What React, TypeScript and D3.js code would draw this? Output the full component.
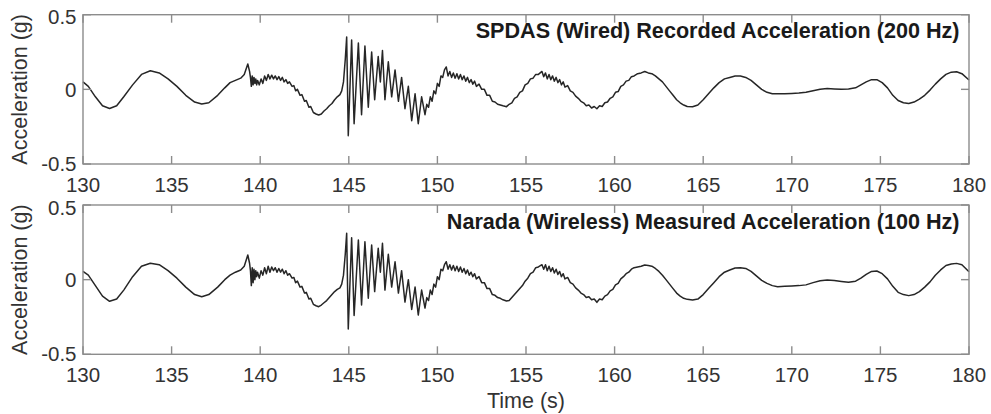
import React from 'react';
import * as d3 from 'd3';

// ---- Data ----
const time = [
  130.0,130.3,130.7,131.1,131.5,131.9,132.3,132.8,133.3,133.8,134.3,134.8,135.3,135.8,136.3,136.7,137.1,137.6,138.0,138.3,138.6,138.9,139.1,139.3,
  139.4,139.45,139.5,139.55,139.6,139.65,139.7,139.75,139.8,
  139.85,139.95,140.05,140.15,140.25,140.35,140.45,140.55,140.65,140.75,140.85,140.95,141.05,141.15,141.25,141.35,141.45,141.55,141.65,141.8,141.9,
  142.0,142.1,142.25,142.35,142.5,142.6,142.75,142.85,143.0,143.15,143.3,143.45,143.6,143.75,143.9,144.05,144.2,144.35,144.5,144.6,144.7,144.8,
  144.88,144.97,145.16,145.3,145.54,145.72,145.91,146.1,146.29,146.46,146.66,146.78,146.9,147.04,147.23,147.42,147.61,147.8,147.98,148.17,148.36,148.55,148.74,148.92,149.11,149.3,
  149.4,149.5,149.6,149.7,149.8,149.9,150.0,150.1,150.2,150.3,150.4,150.5,150.6,150.7,150.8,150.9,151.0,151.1,151.2,151.3,151.4,151.5,151.6,151.7,151.8,151.9,152.0,152.1,152.2,152.35,152.5,152.65,152.8,152.95,153.1,153.25,153.4,153.55,153.7,153.9,
  154.05,154.2,154.35,154.5,154.65,154.8,154.95,155.1,155.25,155.4,155.55,155.7,155.9,
  156.0,156.1,156.2,156.3,156.4,156.5,156.6,156.7,156.8,156.9,157.0,157.1,157.2,157.35,157.5,157.65,157.8,157.95,158.1,158.25,158.4,158.55,158.7,158.85,159.0,
  159.15,159.3,159.45,159.6,159.75,159.9,160.05,160.2,160.35,160.5,160.65,160.8,160.95,161.1,
  161.3,161.5,161.7,161.9,162.1,162.3,162.5,162.7,162.9,163.1,163.3,163.5,163.7,163.9,164.1,
  164.4,164.7,165.0,165.3,165.6,165.9,166.2,166.5,166.8,167.1,167.4,167.7,168.0,168.3,168.6,168.9,169.2,
  169.6,170.0,170.4,170.8,171.2,171.6,172.0,172.4,172.8,173.2,173.6,
  173.9,174.2,174.5,174.8,175.1,175.4,175.7,176.0,176.3,176.6,176.9,177.2,177.5,177.8,178.1,178.4,178.7,179.0,179.3,179.6,
  180.0,
];

const wiredAccel = [
  0.05,0.02,-0.05,-0.11,-0.128,-0.11,-0.05,0.03,0.10,0.125,0.11,0.07,0.02,-0.04,-0.085,-0.098,-0.09,-0.04,0.01,0.045,0.06,0.075,0.1,0.17,
  0.12,0.08,0.02,0.09,0.03,0.08,0.04,0.07,0.03,
  0.06,0.03,0.07,0.04,0.09,0.06,0.1,0.07,0.095,0.07,0.09,0.065,0.085,0.06,0.08,0.05,0.065,0.04,0.05,0.02,0.025,
  -0.01,0.0,-0.04,-0.035,-0.08,-0.075,-0.12,-0.115,-0.155,-0.165,-0.172,-0.165,-0.145,-0.13,-0.11,-0.095,-0.07,-0.05,-0.035,-0.01,0.05,0.2,
  0.35,-0.31,0.33,-0.23,0.31,-0.17,0.29,-0.12,0.25,-0.07,0.22,0.05,0.26,-0.07,0.185,-0.05,0.13,-0.08,0.08,-0.13,0.02,-0.21,-0.03,-0.23,-0.05,-0.17,
  -0.1,-0.12,-0.05,-0.08,-0.01,-0.03,0.04,0.02,0.09,0.08,0.13,0.15,0.09,0.12,0.08,0.11,0.075,0.105,0.07,0.1,0.065,0.09,0.055,0.08,0.045,0.065,0.035,0.055,0.02,0.035,0.0,0.0,-0.04,-0.04,-0.08,-0.085,-0.1,-0.105,-0.11,-0.116,
  -0.1,-0.09,-0.06,-0.05,-0.02,-0.01,0.03,0.04,0.07,0.075,0.1,0.1,0.12,
  0.085,0.11,0.07,0.1,0.065,0.09,0.055,0.08,0.045,0.065,0.03,0.05,0.015,0.025,-0.01,-0.02,-0.045,-0.06,-0.08,-0.09,-0.11,-0.105,-0.125,-0.115,-0.13,
  -0.11,-0.115,-0.09,-0.085,-0.06,-0.05,-0.02,-0.015,0.02,0.03,0.055,0.06,0.085,0.09,
  0.105,0.11,0.12,0.11,0.105,0.09,0.07,0.05,0.02,-0.01,-0.04,-0.07,-0.09,-0.105,-0.115,
  -0.117,-0.105,-0.07,-0.03,0.01,0.045,0.07,0.08,0.09,0.09,0.08,0.06,0.03,0.0,-0.02,-0.03,-0.03,
  -0.03,-0.028,-0.025,-0.02,-0.01,0.0,0.005,0.003,0.0,0.003,0.01,
  0.03,0.05,0.065,0.065,0.045,0.01,-0.04,-0.075,-0.09,-0.095,-0.085,-0.065,-0.04,-0.005,0.035,0.07,0.1,0.115,0.118,0.105,
  0.063,
];

const wirelessAccel = [
  0.055,0.03,-0.04,-0.11,-0.145,-0.13,-0.07,0.02,0.09,0.11,0.1,0.06,0.01,-0.05,-0.1,-0.114,-0.1,-0.05,0.0,0.03,0.05,0.065,0.09,0.165,
  0.11,0.06,-0.04,0.08,-0.02,0.07,0.0,0.06,0.02,
  0.05,0.01,0.06,0.03,0.08,0.04,0.09,0.05,0.085,0.06,0.08,0.05,0.075,0.05,0.07,0.04,0.06,0.03,0.04,0.01,0.015,
  -0.02,-0.01,-0.05,-0.045,-0.09,-0.085,-0.13,-0.125,-0.165,-0.175,-0.181,-0.17,-0.155,-0.14,-0.12,-0.1,-0.08,-0.065,-0.055,-0.03,0.03,0.17,
  0.31,-0.33,0.28,-0.24,0.266,-0.17,0.254,-0.125,0.232,-0.08,0.21,0.05,0.243,-0.07,0.17,-0.05,0.12,-0.09,0.06,-0.15,0.0,-0.2,-0.05,-0.237,-0.07,-0.19,
  -0.12,-0.14,-0.07,-0.1,-0.03,-0.05,0.02,0.0,0.07,0.06,0.1,0.12,0.07,0.1,0.065,0.095,0.06,0.09,0.055,0.085,0.05,0.075,0.04,0.065,0.03,0.05,0.02,0.04,0.005,0.02,-0.02,-0.02,-0.06,-0.06,-0.1,-0.105,-0.12,-0.125,-0.135,-0.143,
  -0.14,-0.12,-0.1,-0.08,-0.06,-0.04,-0.01,0.01,0.04,0.05,0.08,0.085,0.1,
  0.07,0.1,0.06,0.09,0.055,0.08,0.045,0.07,0.035,0.055,0.02,0.04,0.005,0.015,-0.02,-0.03,-0.055,-0.07,-0.09,-0.1,-0.12,-0.115,-0.135,-0.13,-0.152,
  -0.13,-0.135,-0.11,-0.1,-0.075,-0.065,-0.035,-0.025,0.005,0.02,0.04,0.05,0.07,0.08,
  0.085,0.09,0.098,0.095,0.09,0.075,0.055,0.03,0.0,-0.03,-0.06,-0.09,-0.11,-0.125,-0.132,
  -0.136,-0.13,-0.1,-0.06,-0.02,0.02,0.05,0.065,0.078,0.08,0.075,0.055,0.025,-0.005,-0.025,-0.04,-0.047,
  -0.045,-0.042,-0.04,-0.035,-0.02,-0.008,-0.002,-0.005,-0.012,-0.018,-0.01,
  0.01,0.035,0.055,0.058,0.04,0.005,-0.045,-0.085,-0.1,-0.107,-0.1,-0.08,-0.05,-0.015,0.03,0.065,0.095,0.105,0.109,0.1,
  0.053,
];

const xTicks = [130, 135, 140, 145, 150, 155, 160, 165, 170, 175, 180];
const yTicks = [-0.5, 0, 0.5];
const yTickLabels = ['-0.5', '0', '0.5'];
const panelTitles = [
  'SPDAS (Wired) Recorded Acceleration (200 Hz)',
  'Narada (Wireless) Measured Acceleration (100 Hz)',
];
const yAxisLabel = 'Acceleration (g)';
const xAxisLabel = 'Time (s)';

// ---- Layout ----
const W = 991;
const H = 414;
const LEFT = 83;
const RIGHT = 969;
const PANELS = [
  { top: 14.7, bottom: 164 },
  { top: 205, bottom: 354.3 },
];
const FONT = '"Liberation Sans", Arial, Helvetica, sans-serif';
const AXIS_COLOR = '#8c8c8c';
const TEXT_COLOR = '#333333';
const LINE_COLOR = '#262626';
const TICK_LEN = 8;

const x = d3.scaleLinear().domain([130, 180]).range([LEFT, RIGHT]);

function Panel({ top, bottom, values, title }: { top: number; bottom: number; values: number[]; title: string }) {
  const y = d3.scaleLinear().domain([-0.5, 0.5]).range([bottom, top]);
  const n = Math.min(time.length, values.length);
  const pts: [number, number][] = [];
  for (let i = 0; i < n; i++) pts.push([time[i], values[i]]);
  const line = d3
    .line<[number, number]>()
    .x((d) => x(d[0]))
    .y((d) => y(d[1]))
    .curve(d3.curveLinear);
  const yLabelBaseline = (v: number) => (v === 0.5 ? y(v) + 9.5 : v === 0 ? y(v) + 7.5 : y(v) + 6.5);
  const midY = (top + bottom) / 2;
  return (
    <g>
      <path d={line(pts) || ''} fill="none" stroke={LINE_COLOR} strokeWidth={1.5} strokeLinejoin="round" />
      {/* axes box */}
      <rect x={LEFT} y={top} width={RIGHT - LEFT} height={bottom - top} fill="none" stroke={AXIS_COLOR} strokeWidth={1.4} />
      {xTicks.map((t) => (
        <g key={'xt' + t}>
          <line x1={x(t)} x2={x(t)} y1={bottom} y2={bottom - TICK_LEN} stroke={AXIS_COLOR} strokeWidth={1.4} />
          <line x1={x(t)} x2={x(t)} y1={top} y2={top + TICK_LEN} stroke={AXIS_COLOR} strokeWidth={1.4} />
          <text x={x(t)} y={bottom + 27.5} textAnchor="middle" fontSize={20.5} fill={TEXT_COLOR} fontFamily={FONT}>
            {String(t)}
          </text>
        </g>
      ))}
      {yTicks.map((v, i) => (
        <g key={'yt' + v}>
          <line x1={LEFT} x2={LEFT + TICK_LEN} y1={y(v)} y2={y(v)} stroke={AXIS_COLOR} strokeWidth={1.4} />
          <line x1={RIGHT} x2={RIGHT - TICK_LEN} y1={y(v)} y2={y(v)} stroke={AXIS_COLOR} strokeWidth={1.4} />
          <text x={76.5} y={yLabelBaseline(v)} textAnchor="end" fontSize={20.5} fill={TEXT_COLOR} fontFamily={FONT}>
            {yTickLabels[i]}
          </text>
        </g>
      ))}
      <text
        transform={`translate(26.5, ${midY}) rotate(-90)`}
        textAnchor="middle"
        fontSize={21.5}
        fill={TEXT_COLOR}
        fontFamily={FONT}
      >
        {yAxisLabel}
      </text>
      <text x={959.5} y={top + 23.6} textAnchor="end" fontSize={21.6} fontWeight="bold" fill="#1a1a1a" fontFamily={FONT}>
        {title}
      </text>
    </g>
  );
}

export default function App() {
  return (
    <svg
      width={W}
      height={H}
      viewBox={`0 0 ${W} ${H}`}
      style={{ position: 'absolute', left: 0, top: 0, background: '#fff', display: 'block' }}
    >
      <rect x={0} y={0} width={W} height={H} fill="#fff" />
      <Panel top={PANELS[0].top} bottom={PANELS[0].bottom} values={wiredAccel} title={panelTitles[0]} />
      <Panel top={PANELS[1].top} bottom={PANELS[1].bottom} values={wirelessAccel} title={panelTitles[1]} />
      <text x={(LEFT + RIGHT) / 2} y={408} textAnchor="middle" fontSize={21.5} fill={TEXT_COLOR} fontFamily={FONT}>
        {xAxisLabel}
      </text>
    </svg>
  );
}
